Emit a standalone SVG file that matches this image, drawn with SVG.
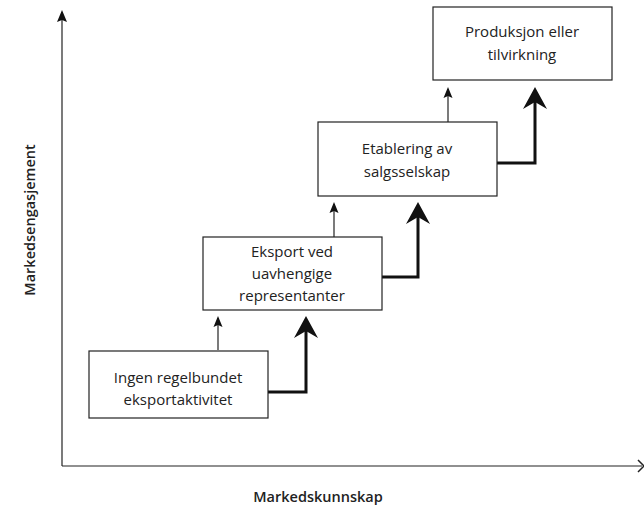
<svg xmlns="http://www.w3.org/2000/svg" width="644" height="510" viewBox="0 0 644 510">
  <defs>
    <style>
      .box { fill: #fff; stroke: #222; stroke-width: 1.2; }
      .lbl { font-family: "Open Sans", "Noto Sans", sans-serif; font-size: 15px; fill: #222; text-anchor: middle; }
      .axis-lbl { font-family: "Open Sans", "Noto Sans", sans-serif; font-size: 14.5px; font-weight: 600; fill: #222; text-anchor: middle; }
      .thick { fill: none; stroke: #111; stroke-width: 3; stroke-linejoin: miter; }
      .thin { stroke: #222; stroke-width: 1.2; }
      .axis { fill: none; stroke: #222; stroke-width: 1.2; }
      .head { fill: #111; }
    </style>
  </defs>

  <!-- axes -->
  <g id="axes">
    <path class="axis" d="M62,466 L62,12"/>
    <path class="head" d="M62,10 L57,22 L62,20 L67,22 Z"/>
    <path class="axis" d="M62,466 L642,466"/>
    <path d="M644,466 L638,460 M644,466 L638,472" stroke="#222" stroke-width="1.5" fill="none"/>
  </g>

  <!-- connectors -->
  <g id="connectors">
    <!-- thin vertical arrows -->
    <line class="thin" x1="218" y1="350" x2="218" y2="318"/>
    <path class="head" d="M218,316 L213.5,327 L218,325 L222.5,327 Z"/>
    <line class="thin" x1="334" y1="237" x2="334" y2="204"/>
    <path class="head" d="M334,202 L329.5,213 L334,211 L338.5,213 Z"/>
    <line class="thin" x1="448" y1="122" x2="448" y2="89"/>
    <path class="head" d="M448,87 L443.5,98 L448,96 L452.5,98 Z"/>

    <!-- thick stepped arrows -->
    <path class="thick" d="M268,392 L306,392 L306,330"/>
    <path class="head" d="M306,316 L294,338 L306,331 L318,338 Z"/>
    <path class="thick" d="M382,277 L418,277 L418,216"/>
    <path class="head" d="M418,202 L406,224 L418,217 L430,224 Z"/>
    <path class="thick" d="M497,163 L535,163 L535,101"/>
    <path class="head" d="M535,87 L523,109 L535,102 L547,109 Z"/>
  </g>

  <!-- stage boxes -->
  <g id="stage1">
    <rect class="box" x="89" y="351" width="179" height="67"/>
    <text class="lbl" x="178" y="383">Ingen regelbundet</text>
    <text class="lbl" x="178" y="405">eksportaktivitet</text>
  </g>
  <g id="stage2">
    <rect class="box" x="203" y="237" width="179" height="73"/>
    <text class="lbl" x="292" y="257">Eksport ved</text>
    <text class="lbl" x="292" y="279">uavhengige</text>
    <text class="lbl" x="292" y="301">representanter</text>
  </g>
  <g id="stage3">
    <rect class="box" x="318" y="122" width="179" height="74"/>
    <text class="lbl" x="407" y="154">Etablering av</text>
    <text class="lbl" x="407" y="177">salgsselskap</text>
  </g>
  <g id="stage4">
    <rect class="box" x="433" y="7" width="179" height="73"/>
    <text class="lbl" x="522" y="37">Produksjon eller</text>
    <text class="lbl" x="522" y="60">tilvirkning</text>
  </g>

  <!-- axis titles -->
  <g id="axis-labels">
    <text class="axis-lbl" x="318" y="502">Markedskunnskap</text>
    <text class="axis-lbl" transform="translate(35,220) rotate(-90)">Markedsengasjement</text>
  </g>
</svg>
